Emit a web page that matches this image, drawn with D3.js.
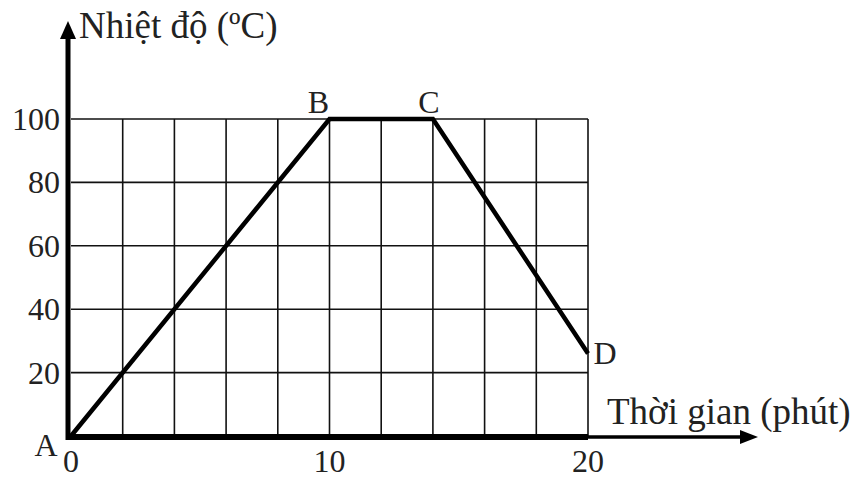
<!DOCTYPE html>
<html><head><meta charset="utf-8">
<script src="https://cdn.jsdelivr.net/npm/d3@7"></script>
<style>html,body{margin:0;padding:0;background:#fff;}svg{display:block;}</style>
</head><body>
<script>
const times = [0, 10, 14, 20];
const temps = [0, 100, 100, 26];
const pointLabels = ["A", "B", "C", "D"];
const xTickLabels = [0, 10, 20];
const yTickLabels = [20, 40, 60, 80, 100];
const xGrid = [2, 4, 6, 8, 10, 12, 14, 16, 18, 20];
const yGrid = [20, 40, 60, 80, 100];
const yTitle = "Nhiệt độ (ºC)";
const xTitle = "Thời gian (phút)";

const W = 854, H = 479;
const svg = d3.select("body").append("svg").attr("width", W).attr("height", H);
const x = d3.scaleLinear().domain([0, 20]).range([71, 588]);
const y = d3.scaleLinear().domain([0, 100]).range([436, 119]);
const font = "'Liberation Serif','Times New Roman',serif";

// grid
svg.append("g").selectAll("line").data(xGrid).join("line")
  .attr("x1", d => x(d)).attr("x2", d => x(d)).attr("y1", y(0)).attr("y2", y(100))
  .attr("stroke", "#111").attr("stroke-width", 1.6);
svg.append("g").selectAll("line").data(yGrid).join("line")
  .attr("x1", x(0)).attr("x2", x(20)).attr("y1", d => y(d)).attr("y2", d => y(d))
  .attr("stroke", "#111").attr("stroke-width", 1.6);

// axes
svg.append("line").attr("x1", x(0) - 3).attr("x2", 745).attr("y1", y(0) + 1).attr("y2", y(0) + 1)
  .attr("stroke", "#000").attr("stroke-width", 3.5);
svg.append("line").attr("x1", x(0) - 3).attr("x2", x(20)).attr("y1", y(0) + 1).attr("y2", y(0) + 1)
  .attr("stroke", "#000").attr("stroke-width", 6);
svg.append("path").attr("d", `M758,${y(0)+1} L740,${y(0)-6} L740,${y(0)+8} Z`).attr("fill", "#000");
svg.append("line").attr("x1", x(0) - 3).attr("x2", x(0) - 3).attr("y1", y(0) + 4).attr("y2", 36)
  .attr("stroke", "#000").attr("stroke-width", 5);
svg.append("path").attr("d", `M${x(0)-3},21 L${x(0)-11},39 L${x(0)+5},39 Z`).attr("fill", "#000");

// tick labels
svg.append("g").selectAll("text").data(yTickLabels).join("text")
  .attr("x", 60).attr("y", d => y(d) + 11).attr("text-anchor", "end")
  .attr("font-family", font).attr("font-size", 32).attr("fill", "#222").text(d => d);
svg.append("g").selectAll("text").data(xTickLabels).join("text")
  .attr("x", d => x(d)).attr("y", 472).attr("text-anchor", "middle")
  .attr("font-family", font).attr("font-size", 32).attr("fill", "#222").text(d => d);

// titles
svg.append("text").attr("x", 79).attr("y", 38).attr("font-family", font).attr("font-size", 37)
  .attr("fill", "#222").text(yTitle);
svg.append("text").attr("x", 607).attr("y", 424).attr("font-family", font).attr("font-size", 37)
  .attr("fill", "#222").text(xTitle);

// data line
const pts = times.map((t, i) => [t, temps[i]]);
svg.append("path").datum(pts)
  .attr("d", d3.line().x(d => x(d[0])).y(d => y(d[1])))
  .attr("fill", "none").attr("stroke", "#000").attr("stroke-width", 4.5).attr("stroke-linejoin", "miter");

// point labels
const offs = [[-25, 20], [-11, -6], [-4, -6], [17, 10]];
svg.append("g").selectAll("text").data(pts).join("text")
  .attr("x", (d, i) => x(d[0]) + offs[i][0]).attr("y", (d, i) => y(d[1]) + offs[i][1])
  .attr("text-anchor", "middle").attr("font-family", font).attr("font-size", 32).attr("fill", "#222")
  .text((d, i) => pointLabels[i]);
</script>
</body></html>
